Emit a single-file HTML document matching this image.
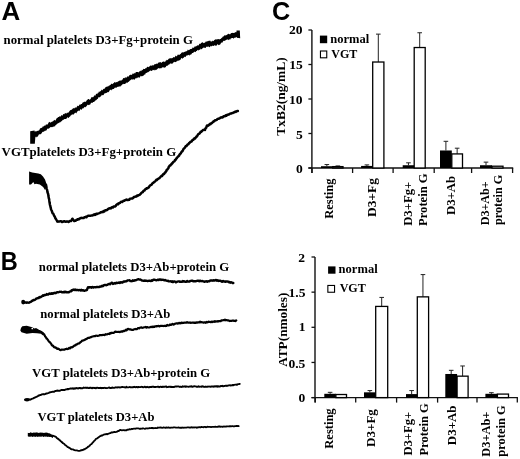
<!DOCTYPE html>
<html><head><meta charset="utf-8"><title>Figure</title>
<style>
html,body{margin:0;padding:0;background:#fff;width:520px;height:459px;overflow:hidden;}
svg{display:block;will-change:transform;}
text{fill:#000;}
</style></head><body>
<svg width="520" height="459" viewBox="0 0 520 459">
<rect width="520" height="459" fill="#fff"/>
<text id="A" transform="translate(1.584,20.028) scale(1.0344,1)" style="font-family:'Liberation Sans',sans-serif;font-weight:bold;font-size:25.100px" text-anchor="start">A</text>
<text id="B" transform="translate(0.851,269.895) scale(0.9313,1)" style="font-family:'Liberation Sans',sans-serif;font-weight:bold;font-size:25.318px" text-anchor="start">B</text>
<text id="C" transform="translate(271.991,19.521) scale(0.9700,1)" style="font-family:'Liberation Sans',sans-serif;font-weight:bold;font-size:26.000px" text-anchor="start">C</text>
<text id="tA1" transform="translate(3.557,43.800) scale(0.9976,1)" style="font-family:'Liberation Serif',serif;font-weight:bold;font-size:12.870px" text-anchor="start">normal platelets D3+Fg+protein G</text>
<text id="tA2" transform="translate(1.583,156.000) scale(0.9998,1)" style="font-family:'Liberation Serif',serif;font-weight:bold;font-size:12.900px" text-anchor="start">VGTplatelets D3+Fg+protein G</text>
<text id="tB1" transform="translate(38.855,270.800) scale(0.9983,1)" style="font-family:'Liberation Serif',serif;font-weight:bold;font-size:12.800px" text-anchor="start">normal platelets D3+Ab+protein G</text>
<text id="tB2" transform="translate(40.312,317.500) scale(1.0004,1)" style="font-family:'Liberation Serif',serif;font-weight:bold;font-size:12.700px" text-anchor="start">normal platelets D3+Ab</text>
<text id="tB3" transform="translate(32.124,376.600) scale(1.0043,1)" style="font-family:'Liberation Serif',serif;font-weight:bold;font-size:12.700px" text-anchor="start">VGT platelets D3+Ab+protein G</text>
<text id="tB4" transform="translate(37.446,420.500) scale(0.9942,1)" style="font-family:'Liberation Serif',serif;font-weight:bold;font-size:12.700px" text-anchor="start">VGT platelets D3+Ab</text>
<text id="l1n" transform="translate(330.330,43.000) scale(1.0104,1)" style="font-family:'Liberation Serif',serif;font-weight:bold;font-size:12.400px" text-anchor="start">normal</text>
<text id="l1v" transform="translate(331.176,57.900) scale(0.9737,1)" style="font-family:'Liberation Serif',serif;font-weight:bold;font-size:12.400px" text-anchor="start">VGT</text>
<text id="l2n" transform="translate(338.623,273.214) scale(1.0121,1)" style="font-family:'Liberation Serif',serif;font-weight:bold;font-size:12.400px" text-anchor="start">normal</text>
<text id="l2v" transform="translate(339.627,292.400) scale(0.9736,1)" style="font-family:'Liberation Serif',serif;font-weight:bold;font-size:12.400px" text-anchor="start">VGT</text>
<text id="yt1" transform="translate(284.500,96.454) rotate(-90) scale(1.1691,1)" style="font-family:'Liberation Serif',serif;font-weight:bold;font-size:11.500px" text-anchor="middle">TxB2(ng/mL)</text>
<text id="yt2" transform="translate(286.900,329.739) rotate(-90) scale(1.1540,1)" style="font-family:'Liberation Serif',serif;font-weight:bold;font-size:11.500px" text-anchor="middle">ATP(nmoles)</text>
<text id="c1a" transform="translate(333.492,178.559) rotate(-90) scale(1.0854,1)" style="font-family:'Liberation Serif',serif;font-weight:bold;font-size:11.500px" text-anchor="end">Resting</text>
<text id="c1b" transform="translate(375.600,178.044) rotate(-90) scale(1.1698,1)" style="font-family:'Liberation Serif',serif;font-weight:bold;font-size:11.500px" text-anchor="end">D3+Fg</text>
<text id="c1c1" transform="translate(411.800,225.839) rotate(-90) scale(1.1053,1)" style="font-family:'Liberation Serif',serif;font-weight:bold;font-size:11.500px" text-anchor="start">D3+Fg+</text>
<text id="c1c2" transform="translate(426.748,225.923) rotate(-90) scale(1.0945,1)" style="font-family:'Liberation Serif',serif;font-weight:bold;font-size:11.500px" text-anchor="start">Protein G</text>
<text id="c1d" transform="translate(454.500,175.743) rotate(-90) scale(1.1163,1)" style="font-family:'Liberation Serif',serif;font-weight:bold;font-size:11.500px" text-anchor="end">D3+Ab</text>
<text id="c1e1" transform="translate(488.700,225.330) rotate(-90) scale(1.0545,1)" style="font-family:'Liberation Serif',serif;font-weight:bold;font-size:11.500px" text-anchor="start">D3+Ab+</text>
<text id="c1e2" transform="translate(502.132,224.953) rotate(-90) scale(1.0611,1)" style="font-family:'Liberation Serif',serif;font-weight:bold;font-size:11.500px" text-anchor="start">protein G</text>
<text id="c2a" transform="translate(333.056,408.369) rotate(-90) scale(1.0903,1)" style="font-family:'Liberation Serif',serif;font-weight:bold;font-size:11.500px" text-anchor="end">Resting</text>
<text id="c2b" transform="translate(375.000,409.120) rotate(-90) scale(1.1339,1)" style="font-family:'Liberation Serif',serif;font-weight:bold;font-size:11.500px" text-anchor="end">D3+Fg</text>
<text id="c2c1" transform="translate(412.400,455.607) rotate(-90) scale(1.1010,1)" style="font-family:'Liberation Serif',serif;font-weight:bold;font-size:11.500px" text-anchor="start">D3+Fg+</text>
<text id="c2c2" transform="translate(427.577,455.447) rotate(-90) scale(1.0872,1)" style="font-family:'Liberation Serif',serif;font-weight:bold;font-size:11.500px" text-anchor="start">Protein G</text>
<text id="c2d" transform="translate(456.100,405.416) rotate(-90) scale(1.1263,1)" style="font-family:'Liberation Serif',serif;font-weight:bold;font-size:11.500px" text-anchor="end">D3+Ab</text>
<text id="c2e1" transform="translate(489.500,456.720) rotate(-90) scale(1.0785,1)" style="font-family:'Liberation Serif',serif;font-weight:bold;font-size:11.500px" text-anchor="start">D3+Ab+</text>
<text id="c2e2" transform="translate(505.168,456.638) rotate(-90) scale(1.0860,1)" style="font-family:'Liberation Serif',serif;font-weight:bold;font-size:11.500px" text-anchor="start">protein G</text>
<text id="y1_20" transform="translate(302.591,34.240) scale(1.1500,1)" style="font-family:'Liberation Serif',serif;font-weight:bold;font-size:11.800px" text-anchor="end">20</text>
<text id="y1_15" transform="translate(302.702,68.850) scale(1.1500,1)" style="font-family:'Liberation Serif',serif;font-weight:bold;font-size:11.800px" text-anchor="end">15</text>
<text id="y1_10" transform="translate(302.495,103.550) scale(1.1500,1)" style="font-family:'Liberation Serif',serif;font-weight:bold;font-size:11.800px" text-anchor="end">10</text>
<text id="y1_5" transform="translate(302.702,138.617) scale(1.1500,1)" style="font-family:'Liberation Serif',serif;font-weight:bold;font-size:11.800px" text-anchor="end">5</text>
<text id="y1_0" transform="translate(302.883,173.230) scale(1.1500,1)" style="font-family:'Liberation Serif',serif;font-weight:bold;font-size:11.800px" text-anchor="end">0</text>
<text id="y2_2" transform="translate(305.099,261.994) scale(1.1500,1)" style="font-family:'Liberation Serif',serif;font-weight:bold;font-size:11.800px" text-anchor="end">2</text>
<text id="y2_15" transform="translate(305.552,297.350) scale(1.1500,1)" style="font-family:'Liberation Serif',serif;font-weight:bold;font-size:11.800px" text-anchor="end">1.5</text>
<text id="y2_1" transform="translate(305.544,331.190) scale(1.1500,1)" style="font-family:'Liberation Serif',serif;font-weight:bold;font-size:11.800px" text-anchor="end">1</text>
<text id="y2_05" transform="translate(305.360,368.068) scale(1.1500,1)" style="font-family:'Liberation Serif',serif;font-weight:bold;font-size:11.800px" text-anchor="end">0.5</text>
<text id="y2_0" transform="translate(305.399,402.336) scale(1.1500,1)" style="font-family:'Liberation Serif',serif;font-weight:bold;font-size:11.800px" text-anchor="end">0</text>
<path d="M32.50,133.02 L33.14,133.26 L33.79,132.79 L34.43,131.74 L35.07,131.42 L35.71,131.18 L36.36,131.46 L37.00,130.70 L37.60,131.05 L38.20,130.52 L38.80,130.71 L39.40,130.07 L40.00,128.48 L40.60,128.29 L41.20,127.64 L41.80,127.92 L42.40,127.33 L43.00,126.10 L43.58,126.70 L44.17,125.72 L44.75,125.55 L45.33,125.70 L45.92,124.43 L46.50,124.49 L47.08,124.43 L47.67,124.43 L48.25,123.14 L48.83,122.33 L49.42,121.75 L50.00,122.52 L50.71,122.44 L51.43,121.90 L52.14,121.46 L52.86,121.62 L53.57,120.77 L54.29,119.85 L55.00,120.54 L55.56,120.38 L56.11,119.25 L56.67,118.24 L57.22,118.04 L57.78,117.43 L58.33,117.11 L58.89,117.09 L59.44,116.16 L60.00,116.48 L60.62,116.57 L61.25,115.37 L61.88,115.16 L62.50,115.78 L63.12,114.19 L63.75,113.95 L64.38,114.18 L65.00,112.91 L65.62,113.17 L66.25,113.77 L66.88,112.75 L67.50,112.68 L68.12,112.71 L68.75,112.35 L69.38,111.25 L70.00,110.47 L70.62,110.01 L71.25,109.86 L71.88,109.68 L72.50,108.75 L73.12,108.52 L73.75,108.02 L74.38,108.57 L75.00,107.60 L75.62,107.38 L76.25,107.76 L76.88,106.75 L77.50,105.74 L78.12,105.75 L78.75,106.13 L79.38,104.44 L80.00,104.85 L80.62,104.44 L81.25,103.99 L81.88,104.11 L82.50,102.72 L83.12,102.14 L83.75,102.30 L84.38,101.55 L85.00,101.90 L85.62,101.64 L86.25,101.26 L86.88,99.99 L87.50,99.87 L88.12,99.02 L88.75,99.06 L89.38,99.86 L90.00,99.50 L90.62,99.09 L91.25,97.48 L91.88,97.00 L92.50,97.25 L93.12,97.16 L93.75,96.42 L94.38,95.07 L95.00,95.96 L95.56,95.24 L96.11,93.87 L96.67,93.67 L97.22,94.23 L97.78,92.86 L98.33,92.93 L98.89,91.51 L99.44,92.30 L100.00,90.63 L100.62,91.58 L101.25,90.19 L101.88,89.45 L102.50,90.40 L103.12,89.31 L103.75,88.77 L104.38,89.01 L105.00,87.70 L105.62,87.32 L106.25,86.99 L106.88,86.42 L107.50,86.42 L108.12,86.42 L108.75,85.80 L109.38,85.57 L110.00,85.24 L110.62,84.77 L111.25,83.73 L111.88,83.66 L112.50,84.21 L113.12,83.23 L113.75,83.26 L114.38,82.21 L115.00,82.10 L115.71,82.66 L116.43,82.06 L117.14,82.35 L117.86,81.59 L118.57,81.16 L119.29,80.80 L120.00,80.56 L120.62,80.59 L121.25,80.66 L121.88,79.72 L122.50,79.84 L123.12,78.37 L123.75,77.97 L124.38,77.64 L125.00,78.45 L125.62,77.11 L126.25,77.58 L126.88,77.60 L127.50,76.20 L128.12,76.15 L128.75,76.76 L129.38,75.10 L130.00,75.32 L130.71,74.51 L131.43,75.06 L132.14,74.49 L132.86,73.33 L133.57,74.00 L134.29,72.80 L135.00,73.66 L135.71,72.32 L136.43,71.98 L137.14,72.10 L137.86,72.10 L138.57,72.50 L139.29,71.18 L140.00,71.61 L140.62,70.51 L141.25,71.13 L141.88,69.80 L142.50,70.37 L143.12,69.15 L143.75,68.78 L144.38,69.06 L145.00,68.88 L145.62,68.09 L146.25,68.17 L146.88,67.16 L147.50,66.73 L148.12,66.81 L148.75,67.19 L149.38,66.44 L150.00,65.86 L150.71,65.43 L151.43,65.93 L152.14,64.79 L152.86,65.71 L153.57,65.25 L154.29,64.46 L155.00,64.03 L155.71,64.30 L156.43,63.55 L157.14,63.93 L157.86,63.25 L158.57,62.49 L159.29,62.31 L160.00,62.41 L160.71,61.96 L161.43,63.05 L162.14,61.94 L162.86,61.78 L163.57,61.39 L164.29,61.39 L165.00,62.36 L165.62,60.85 L166.25,60.62 L166.88,59.79 L167.50,60.21 L168.12,59.43 L168.75,58.78 L169.38,58.58 L170.00,58.17 L170.71,58.24 L171.43,58.35 L172.14,58.27 L172.86,57.87 L173.57,57.01 L174.29,57.62 L175.00,56.86 L175.71,55.43 L176.43,56.44 L177.14,55.85 L177.86,54.55 L178.57,54.79 L179.29,54.93 L180.00,54.23 L180.62,54.07 L181.25,53.02 L181.88,52.54 L182.50,52.17 L183.12,52.57 L183.75,52.35 L184.38,51.81 L185.00,51.98 L185.71,51.19 L186.43,51.13 L187.14,50.94 L187.86,49.56 L188.57,50.30 L189.29,50.00 L190.00,49.29 L190.71,48.91 L191.43,49.01 L192.14,48.46 L192.86,47.31 L193.57,47.90 L194.29,47.27 L195.00,46.10 L195.62,46.70 L196.25,46.33 L196.88,45.70 L197.50,45.25 L198.12,45.55 L198.75,45.32 L199.38,43.40 L200.00,44.31 L200.71,43.48 L201.43,42.85 L202.14,42.61 L202.86,42.26 L203.57,43.31 L204.29,42.86 L205.00,42.72 L205.71,41.53 L206.43,41.79 L207.14,40.88 L207.86,41.45 L208.57,40.81 L209.29,40.95 L210.00,40.30 L210.71,41.51 L211.43,41.53 L212.14,41.36 L212.86,40.38 L213.57,41.26 L214.29,40.11 L215.00,39.84 L215.71,39.35 L216.43,39.43 L217.14,39.16 L217.86,39.36 L218.57,38.93 L219.29,39.53 L220.00,38.91 L220.62,38.96 L221.25,38.15 L221.88,37.72 L222.50,37.30 L223.12,36.11 L223.75,36.68 L224.38,35.51 L225.00,34.78 L225.71,35.69 L226.43,35.01 L227.14,34.68 L227.86,33.88 L228.57,33.78 L229.29,34.07 L230.00,34.55 L230.71,33.61 L231.43,32.98 L232.14,33.00 L232.86,32.63 L233.57,32.94 L234.29,33.01 L235.00,32.26 L235.70,32.14 L236.40,31.58 L237.10,32.97 L237.80,32.17 L238.50,32.68 L238.50,37.05 L237.80,37.77 L237.10,37.02 L236.40,37.32 L235.70,37.48 L235.00,37.84 L234.29,37.87 L233.57,38.85 L232.86,38.06 L232.14,38.00 L231.43,38.22 L230.71,38.51 L230.00,40.09 L229.29,39.02 L228.57,40.29 L227.86,39.27 L227.14,39.82 L226.43,39.84 L225.71,39.94 L225.00,40.88 L224.38,40.70 L223.75,40.80 L223.12,41.13 L222.50,42.53 L221.88,42.67 L221.25,42.48 L220.62,43.73 L220.00,44.76 L219.29,44.81 L218.57,45.26 L217.86,44.25 L217.14,44.58 L216.43,45.87 L215.71,45.92 L215.00,44.88 L214.29,45.61 L213.57,46.00 L212.86,45.81 L212.14,45.78 L211.43,46.58 L210.71,45.76 L210.00,46.90 L209.29,47.19 L208.57,46.54 L207.86,46.61 L207.14,47.06 L206.43,46.45 L205.71,47.99 L205.00,47.83 L204.29,47.76 L203.57,47.40 L202.86,48.27 L202.14,48.60 L201.43,49.43 L200.71,48.59 L200.00,49.95 L199.38,49.51 L198.75,50.65 L198.12,49.84 L197.50,50.09 L196.88,51.02 L196.25,51.12 L195.62,52.13 L195.00,51.83 L194.29,51.78 L193.57,52.60 L192.86,52.88 L192.14,52.95 L191.43,54.17 L190.71,54.64 L190.00,54.51 L189.29,55.78 L188.57,54.86 L187.86,55.27 L187.14,55.56 L186.43,55.58 L185.71,56.64 L185.00,57.30 L184.38,56.43 L183.75,57.84 L183.12,58.08 L182.50,58.74 L181.88,58.30 L181.25,58.10 L180.62,59.48 L180.00,60.13 L179.29,60.37 L178.57,60.72 L177.86,60.57 L177.14,61.37 L176.43,61.42 L175.71,62.09 L175.00,62.13 L174.29,61.68 L173.57,62.31 L172.86,63.54 L172.14,63.52 L171.43,63.66 L170.71,63.53 L170.00,63.54 L169.38,64.48 L168.75,64.60 L168.12,65.32 L167.50,65.65 L166.88,65.80 L166.25,66.10 L165.62,67.41 L165.00,67.08 L164.29,67.91 L163.57,67.26 L162.86,67.45 L162.14,67.27 L161.43,68.13 L160.71,68.57 L160.00,67.66 L159.29,68.79 L158.57,68.01 L157.86,68.56 L157.14,69.22 L156.43,69.73 L155.71,70.17 L155.00,69.61 L154.29,70.41 L153.57,70.03 L152.86,69.78 L152.14,70.65 L151.43,71.04 L150.71,70.45 L150.00,70.73 L149.38,71.32 L148.75,71.84 L148.12,72.20 L147.50,72.37 L146.88,72.65 L146.25,73.11 L145.62,73.27 L145.00,74.88 L144.38,74.28 L143.75,75.46 L143.12,75.78 L142.50,76.03 L141.88,76.59 L141.25,76.11 L140.62,75.85 L140.00,77.22 L139.29,77.81 L138.57,77.00 L137.86,78.29 L137.14,77.28 L136.43,78.56 L135.71,77.98 L135.00,79.35 L134.29,79.68 L133.57,79.22 L132.86,79.23 L132.14,79.70 L131.43,79.33 L130.71,80.11 L130.00,80.44 L129.38,80.93 L128.75,81.91 L128.12,81.69 L127.50,82.77 L126.88,83.14 L126.25,82.15 L125.62,83.41 L125.00,84.04 L124.38,84.00 L123.75,83.64 L123.12,84.28 L122.50,84.12 L121.88,85.73 L121.25,84.97 L120.62,86.28 L120.00,86.71 L119.29,86.32 L118.57,86.85 L117.86,86.82 L117.14,86.99 L116.43,87.77 L115.71,87.64 L115.00,87.54 L114.38,88.33 L113.75,89.03 L113.12,88.94 L112.50,89.34 L111.88,89.55 L111.25,90.40 L110.62,89.76 L110.00,89.83 L109.38,91.01 L108.75,91.99 L108.12,92.33 L107.50,91.98 L106.88,93.07 L106.25,92.65 L105.62,93.28 L105.00,93.17 L104.38,93.43 L103.75,94.87 L103.12,95.36 L102.50,95.29 L101.88,94.66 L101.25,95.90 L100.62,96.46 L100.00,97.12 L99.44,97.55 L98.89,96.95 L98.33,97.44 L97.78,99.14 L97.22,98.71 L96.67,99.81 L96.11,100.25 L95.56,100.21 L95.00,101.15 L94.38,101.39 L93.75,102.05 L93.12,101.98 L92.50,103.09 L91.88,102.41 L91.25,102.89 L90.62,103.55 L90.00,104.98 L89.38,104.44 L88.75,105.16 L88.12,104.82 L87.50,104.75 L86.88,105.85 L86.25,106.53 L85.62,106.96 L85.00,107.58 L84.38,106.78 L83.75,108.10 L83.12,108.51 L82.50,108.29 L81.88,109.24 L81.25,110.12 L80.62,109.02 L80.00,109.63 L79.38,111.32 L78.75,110.46 L78.12,111.02 L77.50,111.16 L76.88,112.17 L76.25,113.39 L75.62,112.40 L75.00,113.16 L74.38,113.23 L73.75,114.77 L73.12,114.34 L72.50,114.39 L71.88,114.62 L71.25,115.18 L70.62,115.42 L70.00,116.71 L69.38,116.66 L68.75,117.63 L68.12,117.92 L67.50,117.09 L66.88,118.31 L66.25,118.75 L65.62,118.88 L65.00,118.97 L64.38,119.06 L63.75,119.75 L63.12,119.68 L62.50,119.89 L61.88,121.40 L61.25,120.99 L60.62,122.04 L60.00,122.41 L59.44,122.15 L58.89,123.26 L58.33,122.70 L57.78,123.96 L57.22,123.35 L56.67,124.34 L56.11,125.10 L55.56,124.92 L55.00,126.49 L54.29,126.28 L53.57,126.48 L52.86,127.18 L52.14,126.66 L51.43,127.14 L50.71,126.94 L50.00,127.62 L49.42,128.16 L48.83,128.27 L48.25,129.09 L47.67,128.46 L47.08,129.12 L46.50,130.45 L45.92,130.36 L45.33,130.95 L44.75,130.70 L44.17,131.55 L43.58,131.69 L43.00,131.73 L42.40,131.95 L41.80,132.90 L41.20,133.68 L40.60,134.51 L40.00,133.84 L39.40,134.56 L38.80,134.62 L38.20,135.63 L37.60,136.97 L37.00,136.26 L36.36,137.51 L35.71,136.62 L35.07,137.45 L34.43,137.85 L33.79,137.91 L33.14,137.73 L32.50,138.14Z" fill="#000"/>
<path d="M30.2,131.3 L34.5,130.6 L35.5,135 L34.8,143.8 L30.2,143.8Z" fill="#000"/>
<path d="M236.5,30.6 L239.8,30.4 L240.2,38.3 L237,37.8Z" fill="#000"/>
<path d="M46.00,184.79 L46.14,185.49 L46.29,186.34 L46.43,187.09 L46.57,188.27 L46.71,188.89 L46.86,189.62 L47.00,189.57 L47.19,190.29 L47.37,191.62 L47.56,192.50 L47.74,192.83 L47.93,193.65 L48.11,193.84 L48.30,194.90 L48.43,196.10 L48.56,196.72 L48.69,197.46 L48.81,198.28 L48.94,198.35 L49.07,198.93 L49.20,199.69 L49.31,200.73 L49.43,201.59 L49.54,202.54 L49.66,203.06 L49.77,203.70 L49.89,204.52 L50.00,204.96 L50.19,205.76 L50.37,206.01 L50.56,207.40 L50.74,207.62 L50.93,208.95 L51.11,209.42 L51.30,209.82 L51.62,210.42 L51.95,211.28 L52.27,212.37 L52.60,213.18 L53.05,213.40 L53.50,214.11 L53.95,215.27 L54.40,216.07 L54.73,216.65 L55.05,217.25 L55.38,218.34 L55.70,218.56 L56.27,219.55 L56.83,220.43 L57.40,221.61 L58.17,221.40 L58.93,221.68 L59.70,221.38 L60.47,221.23 L61.23,221.31 L62.00,222.01 L62.76,221.78 L63.51,221.43 L64.27,221.17 L65.02,221.60 L65.78,221.76 L66.53,221.53 L67.29,221.38 L68.04,221.75 L68.80,221.98 L69.53,221.22 L70.27,220.91 L71.00,221.05 L71.40,220.45 L71.80,220.01 L72.20,218.90 L72.60,218.77 L72.90,219.38 L73.20,219.84 L73.50,220.23 L74.25,221.07 L75.00,220.63 L75.71,220.75 L76.43,219.87 L77.14,219.52 L77.86,219.66 L78.57,218.90 L79.29,219.15 L80.00,218.40 L80.71,217.98 L81.43,217.87 L82.14,217.90 L82.86,217.98 L83.57,218.09 L84.29,217.22 L85.00,217.30 L85.71,216.87 L86.43,217.28 L87.14,216.26 L87.86,215.91 L88.57,215.65 L89.29,215.68 L90.00,215.86 L90.71,215.70 L91.43,215.42 L92.14,215.52 L92.86,215.32 L93.57,214.63 L94.29,214.36 L95.00,214.89 L95.71,214.52 L96.43,213.68 L97.14,214.05 L97.86,213.59 L98.57,213.39 L99.29,213.15 L100.00,212.80 L100.71,212.31 L101.43,212.22 L102.14,211.94 L102.86,212.14 L103.57,211.05 L104.29,211.46 L105.00,210.44 L105.71,210.23 L106.43,210.30 L107.14,209.96 L107.86,209.27 L108.57,208.58 L109.29,208.62 L110.00,208.19 L110.71,208.39 L111.43,207.45 L112.14,207.32 L112.86,207.51 L113.57,206.45 L114.29,206.51 L115.00,206.58 L115.62,206.07 L116.25,204.94 L116.88,204.46 L117.50,204.01 L118.12,204.30 L118.75,203.23 L119.38,203.20 L120.00,202.86 L120.71,202.04 L121.43,201.67 L122.14,201.97 L122.86,201.35 L123.57,200.71 L124.29,200.81 L125.00,200.13 L125.71,199.94 L126.43,199.54 L127.14,200.06 L127.86,200.05 L128.57,199.63 L129.29,199.76 L130.00,198.77 L130.71,198.62 L131.43,198.49 L132.14,198.58 L132.86,198.24 L133.57,197.38 L134.29,196.92 L135.00,196.74 L135.71,196.44 L136.43,196.47 L137.14,195.44 L137.86,195.64 L138.57,195.23 L139.29,194.95 L140.00,194.55 L140.56,193.91 L141.11,193.17 L141.67,192.67 L142.22,192.22 L142.78,192.11 L143.33,190.99 L143.89,190.61 L144.44,190.62 L145.00,189.67 L145.56,189.07 L146.11,188.61 L146.67,188.65 L147.22,188.01 L147.78,188.17 L148.33,187.65 L148.89,187.31 L149.44,186.22 L150.00,185.63 L150.50,185.15 L151.00,185.02 L151.50,184.72 L152.00,183.99 L152.50,183.31 L153.00,182.99 L153.50,182.68 L154.00,182.24 L154.50,181.81 L155.00,181.41 L155.62,180.81 L156.25,179.88 L156.88,180.09 L157.50,179.16 L158.12,178.97 L158.75,178.36 L159.38,178.25 L160.00,177.33 L160.50,176.88 L161.00,176.39 L161.50,175.82 L162.00,175.99 L162.50,175.22 L163.00,174.50 L163.50,174.08 L164.00,174.12 L164.50,173.20 L165.00,172.46 L165.42,172.38 L165.83,171.64 L166.25,171.34 L166.67,169.94 L167.08,169.68 L167.50,169.39 L167.92,168.81 L168.33,168.27 L168.75,166.89 L169.17,166.51 L169.58,165.76 L170.00,165.22 L170.50,165.41 L171.00,164.53 L171.50,164.33 L172.00,163.31 L172.50,163.23 L173.00,162.33 L173.50,161.64 L174.00,161.59 L174.50,161.22 L175.00,159.95 L175.45,159.85 L175.91,159.34 L176.36,158.44 L176.82,158.04 L177.27,157.30 L177.73,156.82 L178.18,156.32 L178.64,156.10 L179.09,155.61 L179.55,154.67 L180.00,153.96 L180.42,153.65 L180.83,153.38 L181.25,152.34 L181.67,151.86 L182.08,151.17 L182.50,151.12 L182.92,150.30 L183.33,149.27 L183.75,148.72 L184.17,148.39 L184.58,147.94 L185.00,147.43 L185.50,146.44 L186.00,146.02 L186.50,146.01 L187.00,145.26 L187.50,144.65 L188.00,144.19 L188.50,144.28 L189.00,143.21 L189.50,142.95 L190.00,142.27 L190.56,141.86 L191.11,141.79 L191.67,141.45 L192.22,140.41 L192.78,139.79 L193.33,139.81 L193.89,138.87 L194.44,138.22 L195.00,138.56 L195.50,137.58 L196.00,137.39 L196.50,136.47 L197.00,136.34 L197.50,135.41 L198.00,134.60 L198.50,133.91 L199.00,133.85 L199.50,133.38 L200.00,133.07 L200.60,131.85 L201.20,131.85 L201.80,131.14 L202.40,130.78 L203.00,129.98 L203.67,129.87 L204.33,129.85 L205.00,129.98 L205.33,128.61 L205.67,128.32 L206.00,127.97 L206.33,127.49 L206.67,126.16 L207.00,125.46 L207.75,125.80 L208.50,125.43 L209.25,124.58 L210.00,123.80 L210.60,124.12 L211.20,123.18 L211.80,123.18 L212.40,122.47 L213.00,122.19 L213.60,121.19 L214.20,121.36 L214.80,120.45 L215.40,120.21 L216.00,120.21 L216.67,119.91 L217.33,119.05 L218.00,118.80 L218.67,118.68 L219.33,118.50 L220.00,118.10 L220.71,117.55 L221.43,117.34 L222.14,117.46 L222.86,117.30 L223.57,116.22 L224.29,116.37 L225.00,116.23 L225.71,115.27 L226.43,115.68 L227.14,114.71 L227.86,114.83 L228.57,114.47 L229.29,114.23 L230.00,113.63 L230.71,113.49 L231.43,113.39 L232.14,113.00 L232.86,112.97 L233.57,112.54 L234.29,112.29 L235.00,111.67 L235.72,111.88 L236.45,111.44 L237.18,110.89 L237.90,111.04" fill="none" stroke="#000" stroke-width="2.5" stroke-linejoin="round" stroke-linecap="round"/>
<path d="M29.1,171.4 L32.2,172.4 L38.3,173.5 L40.8,174.2 L43,176.5 L45,179.5 L46.2,183 L46.8,186.8 L45,190 L43.5,187.5 L42.5,186.4 L39.8,184.5 L36,183.7 L34.5,184.2 L33.3,182 L32.2,183.2 L31,184.6 L29.1,184.6Z" fill="#000"/>
<path d="M24.00,302.55 L25.00,302.46 L25.75,302.34 L26.50,302.73 L27.25,302.52 L28.00,302.67 L29.00,302.69 L30.00,302.13 L30.67,301.95 L31.33,301.51 L32.00,300.59 L32.75,300.75 L33.50,299.87 L34.25,300.09 L35.00,299.75 L35.75,299.14 L36.50,298.35 L37.25,298.38 L38.00,297.89 L38.67,298.07 L39.33,297.01 L40.00,297.32 L40.75,297.07 L41.50,296.46 L42.25,296.16 L43.00,295.22 L43.75,295.68 L44.50,294.99 L45.25,295.16 L46.00,294.87 L46.80,294.06 L47.60,294.48 L48.40,294.47 L49.20,293.55 L50.00,293.67 L50.71,293.92 L51.43,293.26 L52.14,293.81 L52.86,293.14 L53.57,293.51 L54.29,292.79 L55.00,293.00 L55.75,293.20 L56.50,292.39 L57.25,292.26 L58.00,292.31 L58.80,292.08 L59.60,291.76 L60.40,291.83 L61.20,291.76 L62.00,292.39 L62.75,292.16 L63.50,292.36 L64.25,291.70 L65.00,292.26 L65.75,291.75 L66.50,292.23 L67.25,292.42 L68.00,292.27 L68.75,292.39 L69.50,291.75 L70.25,291.42 L71.00,291.34 L71.67,290.18 L72.33,290.51 L73.00,289.72 L73.75,289.55 L74.50,289.97 L75.25,289.54 L76.00,290.24 L76.80,289.95 L77.60,289.83 L78.40,290.28 L79.20,290.07 L80.00,289.91 L80.71,290.45 L81.43,289.85 L82.14,290.57 L82.86,290.09 L83.57,290.47 L84.29,290.81 L85.00,290.48 L86.00,290.35 L87.00,289.83 L87.33,288.75 L87.67,287.98 L88.00,287.28 L89.00,287.50 L90.00,287.14 L90.71,287.27 L91.43,287.67 L92.14,287.04 L92.86,287.18 L93.57,287.62 L94.29,287.11 L95.00,287.15 L95.71,287.36 L96.43,287.02 L97.14,287.13 L97.86,286.89 L98.57,287.10 L99.29,286.99 L100.00,286.53 L100.71,286.68 L101.43,286.32 L102.14,285.79 L102.86,286.28 L103.57,285.43 L104.29,285.11 L105.00,284.84 L105.71,285.17 L106.43,285.22 L107.14,284.98 L107.86,284.48 L108.57,284.20 L109.29,283.82 L110.00,284.23 L110.67,283.66 L111.33,282.97 L112.00,282.73 L112.50,283.05 L113.00,283.99 L114.00,283.61 L115.00,282.97 L115.71,283.51 L116.43,282.68 L117.14,283.06 L117.86,282.89 L118.57,282.68 L119.29,282.46 L120.00,283.05 L120.80,282.16 L121.60,282.45 L122.40,282.60 L123.20,281.68 L124.00,281.53 L124.67,281.68 L125.33,281.37 L126.00,281.28 L126.67,281.22 L127.33,280.42 L128.00,280.33 L128.80,280.42 L129.60,280.29 L130.40,281.15 L131.20,281.15 L132.00,281.19 L132.80,280.36 L133.60,280.91 L134.40,280.62 L135.20,280.17 L136.00,280.22 L137.00,279.71 L138.00,279.25 L138.80,279.30 L139.60,279.58 L140.40,279.56 L141.20,279.99 L142.00,280.52 L142.80,280.58 L143.60,280.81 L144.40,280.79 L145.20,280.49 L146.00,280.85 L146.80,280.74 L147.60,281.06 L148.40,280.82 L149.20,280.59 L150.00,280.93 L150.80,281.06 L151.60,280.23 L152.40,280.66 L153.20,279.72 L154.00,279.78 L154.80,279.72 L155.60,280.14 L156.40,280.28 L157.20,280.06 L158.00,279.64 L158.80,280.08 L159.60,279.53 L160.40,279.39 L161.20,279.93 L162.00,279.62 L162.80,279.81 L163.60,279.93 L164.40,280.35 L165.20,280.03 L166.00,280.51 L166.67,280.59 L167.33,280.96 L168.00,280.79 L168.67,281.27 L169.33,281.35 L170.00,281.33 L170.75,281.30 L171.50,281.74 L172.25,281.31 L173.00,282.12 L173.75,281.49 L174.50,281.45 L175.25,281.58 L176.00,282.39 L176.75,281.80 L177.50,281.55 L178.25,281.39 L179.00,281.34 L179.75,281.86 L180.50,281.75 L181.25,281.74 L182.00,281.71 L182.75,281.08 L183.50,281.53 L184.25,281.30 L185.00,281.69 L185.75,281.66 L186.50,281.70 L187.25,280.93 L188.00,281.63 L188.75,281.64 L189.50,281.62 L190.25,280.83 L191.00,280.89 L191.75,280.76 L192.50,280.66 L193.25,281.35 L194.00,281.28 L194.75,281.12 L195.50,281.29 L196.25,281.12 L197.00,280.81 L197.75,280.64 L198.50,280.64 L199.25,281.23 L200.00,280.73 L200.80,280.98 L201.60,281.21 L202.40,280.99 L203.20,281.34 L204.00,281.50 L204.80,281.79 L205.60,281.38 L206.40,281.24 L207.20,281.72 L208.00,281.20 L208.80,281.38 L209.60,281.03 L210.40,280.36 L211.20,280.56 L212.00,280.44 L212.80,280.69 L213.60,280.24 L214.40,280.50 L215.20,280.29 L216.00,279.94 L216.80,280.71 L217.60,280.19 L218.40,281.03 L219.20,280.62 L220.00,280.65 L220.80,280.91 L221.60,281.50 L222.40,281.77 L223.20,280.97 L224.00,281.49 L224.80,281.53 L225.60,281.85 L226.40,281.34 L227.20,281.66 L228.00,281.56 L228.75,282.20 L229.50,281.88 L230.25,282.70 L231.00,282.31 L231.77,282.41 L232.53,283.01 L233.30,283.00" fill="none" stroke="#000" stroke-width="2.4" stroke-linejoin="round" stroke-linecap="round"/>
<ellipse cx="23.2" cy="302.1" rx="2.0" ry="2.3" fill="#000"/>
<path d="M36.00,329.15 L36.67,329.96 L37.33,329.79 L38.00,330.76 L38.67,331.01 L39.33,331.42 L40.00,331.62 L40.67,331.70 L41.33,332.08 L42.00,332.41 L42.50,333.35 L43.00,333.13 L43.50,334.35 L44.00,334.07 L44.40,334.84 L44.80,335.49 L45.20,336.66 L45.60,336.90 L46.00,337.39 L46.50,338.47 L47.00,338.51 L47.50,339.34 L48.00,340.03 L48.50,340.85 L49.00,341.48 L49.50,342.01 L50.00,342.36 L50.50,342.97 L51.00,343.44 L51.50,344.68 L52.00,345.15 L52.50,345.72 L53.00,345.70 L53.50,346.44 L54.00,347.25 L54.75,347.45 L55.50,347.41 L56.25,348.09 L57.00,348.85 L57.75,348.59 L58.50,348.87 L59.25,349.30 L60.00,349.98 L60.75,350.16 L61.50,349.59 L62.25,349.64 L63.00,349.77 L63.75,349.64 L64.50,349.62 L65.25,349.09 L66.00,349.05 L66.80,348.68 L67.60,349.15 L68.40,348.69 L69.20,347.88 L70.00,348.42 L70.67,347.31 L71.33,347.23 L72.00,347.44 L72.67,346.93 L73.33,346.54 L74.00,345.94 L74.67,345.39 L75.33,345.46 L76.00,344.65 L76.67,344.40 L77.33,344.23 L78.00,343.58 L78.57,343.48 L79.14,343.40 L79.71,342.89 L80.29,342.29 L80.86,341.98 L81.43,341.40 L82.00,340.68 L82.67,340.76 L83.33,340.25 L84.00,340.22 L84.67,340.03 L85.33,339.27 L86.00,339.07 L86.67,338.89 L87.33,338.26 L88.00,337.76 L88.67,337.95 L89.33,337.84 L90.00,337.50 L90.67,337.18 L91.33,337.07 L92.00,336.66 L92.80,336.53 L93.60,336.26 L94.40,336.03 L95.20,336.22 L96.00,335.64 L96.80,335.77 L97.60,335.93 L98.40,335.71 L99.20,335.48 L100.00,334.98 L100.80,335.05 L101.60,335.00 L102.40,335.07 L103.20,334.80 L104.00,334.96 L104.80,335.03 L105.60,334.19 L106.40,334.46 L107.20,334.41 L108.00,333.90 L108.80,333.79 L109.60,334.03 L110.40,332.98 L111.20,333.24 L112.00,332.69 L112.80,333.01 L113.60,332.92 L114.40,332.30 L115.20,331.68 L116.00,331.87 L116.80,331.84 L117.60,332.00 L118.40,331.81 L119.20,331.93 L120.00,332.10 L120.80,331.66 L121.60,331.40 L122.40,331.72 L123.20,330.90 L124.00,331.17 L124.67,330.60 L125.33,330.64 L126.00,329.76 L126.67,330.24 L127.33,329.37 L128.00,328.80 L128.80,329.16 L129.60,329.43 L130.40,329.24 L131.20,329.77 L132.00,329.93 L132.80,329.98 L133.60,329.47 L134.40,329.19 L135.20,328.95 L136.00,329.22 L136.80,329.16 L137.60,328.54 L138.40,328.03 L139.20,328.31 L140.00,327.70 L140.71,327.46 L141.43,327.29 L142.14,327.79 L142.86,327.74 L143.57,327.49 L144.29,327.26 L145.00,327.26 L145.71,326.95 L146.43,327.62 L147.14,327.07 L147.86,327.32 L148.57,327.49 L149.29,327.48 L150.00,327.17 L150.71,326.91 L151.43,327.04 L152.14,326.56 L152.86,327.10 L153.57,326.57 L154.29,326.92 L155.00,326.29 L155.71,326.35 L156.43,326.19 L157.14,326.30 L157.86,326.05 L158.57,325.84 L159.29,326.44 L160.00,326.00 L160.71,325.91 L161.43,325.91 L162.14,326.01 L162.86,325.91 L163.57,326.04 L164.29,326.00 L165.00,325.68 L165.71,326.04 L166.43,325.83 L167.14,324.97 L167.86,325.52 L168.57,325.45 L169.29,325.20 L170.00,324.48 L170.71,324.98 L171.43,324.69 L172.14,324.02 L172.86,323.90 L173.57,324.64 L174.29,324.25 L175.00,323.78 L175.71,323.50 L176.43,323.39 L177.14,323.33 L177.86,323.68 L178.57,323.15 L179.29,322.83 L180.00,323.36 L180.71,323.18 L181.43,322.53 L182.14,323.09 L182.86,322.75 L183.57,322.82 L184.29,322.64 L185.00,322.75 L185.71,322.67 L186.43,322.73 L187.14,322.17 L187.86,322.63 L188.57,322.50 L189.29,322.70 L190.00,322.44 L190.71,322.92 L191.43,322.69 L192.14,322.50 L192.86,322.55 L193.57,322.53 L194.29,322.92 L195.00,322.60 L195.71,322.83 L196.43,322.39 L197.14,322.56 L197.86,322.43 L198.57,322.32 L199.29,322.47 L200.00,321.56 L200.71,322.38 L201.43,322.11 L202.14,322.27 L202.86,322.43 L203.57,322.66 L204.29,322.32 L205.00,322.43 L205.71,322.81 L206.43,321.92 L207.14,322.32 L207.86,322.22 L208.57,321.58 L209.29,322.00 L210.00,321.96 L210.71,322.15 L211.43,321.56 L212.14,322.10 L212.86,321.64 L213.57,321.57 L214.29,321.90 L215.00,321.08 L215.71,321.62 L216.43,321.47 L217.14,321.14 L217.86,321.54 L218.57,321.02 L219.29,321.05 L220.00,321.02 L220.71,321.07 L221.43,320.40 L222.14,320.43 L222.86,320.24 L223.57,320.19 L224.29,320.27 L225.00,319.61 L225.75,320.27 L226.50,320.06 L227.25,320.33 L228.00,320.29 L228.80,320.57 L229.60,321.05 L230.40,320.82 L231.20,321.00 L232.00,320.65 L232.72,320.64 L233.43,320.62 L234.15,320.88 L234.87,320.92 L235.58,321.06 L236.30,320.39" fill="none" stroke="#000" stroke-width="2.2" stroke-linejoin="round" stroke-linecap="round"/>
<path d="M20.3,330.4 L21,328 L22.3,326.3 L26.7,325.8 L31.3,326.9 L35.3,328.7 L39.3,330.1 L41.7,331.5 L43.6,333.6 L42.6,335.2 L41,333.8 L37,333.2 L32.4,333.1 L26.7,333.7 L21.5,332.2 Z" fill="#000"/>
<path d="M31.4,328.1 L33,327.9 L33.2,329.2 L31.6,329.3Z" fill="#fff"/>
<path d="M25.00,399.66 L25.75,399.89 L26.50,399.78 L27.25,399.56 L28.00,399.86 L28.75,399.45 L29.50,399.38 L30.25,399.70 L31.00,399.28 L31.75,398.96 L32.50,398.70 L33.25,398.44 L34.00,397.88 L34.75,397.56 L35.50,397.24 L36.25,396.96 L37.00,396.57 L37.75,396.25 L38.50,395.55 L39.25,395.49 L40.00,394.97 L40.80,395.02 L41.60,394.40 L42.40,394.30 L43.20,394.04 L44.00,394.39 L44.80,394.25 L45.60,393.83 L46.40,393.39 L47.20,393.47 L48.00,393.20 L48.80,392.84 L49.60,392.43 L50.40,392.26 L51.20,392.15 L52.00,391.87 L52.80,391.75 L53.60,391.70 L54.40,391.70 L55.20,390.89 L56.00,391.05 L56.80,390.58 L57.60,390.53 L58.40,390.92 L59.20,390.65 L60.00,390.79 L60.80,390.30 L61.60,389.84 L62.40,389.94 L63.20,389.92 L64.00,390.01 L64.80,389.94 L65.60,389.48 L66.40,389.34 L67.20,389.02 L68.00,389.30 L68.80,388.88 L69.60,388.72 L70.40,388.50 L71.20,388.37 L72.00,388.73 L72.73,388.30 L73.45,388.85 L74.18,388.20 L74.91,388.71 L75.64,388.16 L76.36,388.04 L77.09,388.50 L77.82,388.13 L78.55,388.44 L79.27,388.02 L80.00,387.89 L80.75,388.32 L81.50,388.20 L82.25,388.22 L83.00,388.06 L83.75,387.53 L84.50,387.84 L85.25,387.82 L86.00,387.57 L86.80,387.98 L87.60,387.59 L88.40,388.17 L89.20,388.07 L90.00,387.66 L90.71,387.66 L91.43,388.11 L92.14,388.22 L92.86,387.71 L93.57,387.87 L94.29,388.16 L95.00,387.77 L95.71,388.25 L96.43,387.99 L97.14,387.69 L97.86,387.91 L98.57,388.05 L99.29,387.96 L100.00,388.12 L100.71,387.74 L101.43,388.18 L102.14,387.86 L102.86,388.04 L103.57,388.02 L104.29,387.86 L105.00,387.82 L105.71,388.09 L106.43,388.18 L107.14,388.06 L107.86,387.89 L108.57,387.68 L109.29,387.51 L110.00,388.13 L110.71,387.90 L111.43,387.94 L112.14,387.55 L112.86,387.70 L113.57,387.92 L114.29,387.77 L115.00,387.57 L115.71,387.32 L116.43,387.36 L117.14,387.64 L117.86,387.24 L118.57,387.42 L119.29,387.31 L120.00,387.48 L120.71,387.41 L121.43,387.04 L122.14,386.83 L122.86,387.01 L123.57,387.12 L124.29,387.23 L125.00,387.38 L125.71,387.43 L126.43,386.83 L127.14,387.38 L127.86,387.36 L128.57,387.39 L129.29,387.18 L130.00,386.96 L130.71,387.36 L131.43,387.32 L132.14,387.23 L132.86,387.39 L133.57,386.98 L134.29,386.80 L135.00,387.12 L135.71,387.28 L136.43,386.86 L137.14,387.24 L137.86,387.36 L138.57,386.87 L139.29,387.12 L140.00,387.16 L140.71,387.01 L141.43,386.82 L142.14,386.85 L142.86,387.19 L143.57,387.22 L144.29,386.98 L145.00,386.71 L145.71,387.21 L146.42,387.18 L147.13,386.80 L147.84,387.03 L148.55,387.25 L149.26,387.24 L149.97,386.98 L150.68,386.94 L151.39,387.02 L152.11,386.73 L152.82,386.73 L153.53,386.71 L154.24,387.07 L154.95,386.83 L155.66,386.97 L156.37,386.85 L157.08,386.92 L157.79,386.66 L158.50,386.58 L159.21,387.24 L159.92,386.80 L160.63,386.61 L161.34,386.97 L162.05,387.07 L162.76,386.63 L163.47,386.93 L164.18,386.75 L164.89,386.87 L165.61,386.51 L166.32,386.52 L167.03,387.18 L167.74,387.09 L168.45,386.82 L169.16,386.87 L169.87,386.65 L170.58,387.01 L171.29,386.75 L172.00,387.11 L172.72,386.98 L173.44,387.00 L174.16,387.09 L174.88,386.58 L175.60,386.42 L176.32,386.52 L177.04,386.49 L177.76,386.41 L178.48,386.38 L179.20,386.72 L179.92,386.93 L180.64,386.63 L181.36,386.96 L182.08,386.92 L182.80,386.31 L183.52,386.68 L184.24,386.52 L184.96,386.32 L185.68,386.89 L186.40,386.39 L187.12,386.59 L187.84,386.63 L188.56,386.84 L189.28,386.63 L190.00,386.43 L190.71,386.46 L191.43,386.26 L192.14,386.83 L192.86,386.84 L193.57,386.31 L194.29,386.18 L195.00,386.33 L195.71,386.40 L196.43,386.78 L197.14,386.78 L197.86,386.74 L198.57,386.18 L199.29,386.70 L200.00,386.65 L200.71,386.62 L201.43,386.88 L202.14,386.25 L202.86,386.34 L203.57,386.79 L204.29,386.94 L205.00,386.77 L205.71,386.53 L206.43,386.76 L207.14,386.89 L207.86,386.46 L208.57,386.63 L209.29,386.61 L210.00,386.54 L210.71,386.74 L211.43,386.48 L212.14,386.49 L212.86,386.38 L213.57,386.71 L214.29,386.20 L215.00,386.65 L215.71,386.24 L216.43,386.09 L217.14,386.67 L217.86,386.13 L218.57,386.59 L219.29,386.50 L220.00,386.47 L220.71,385.90 L221.43,386.06 L222.14,385.77 L222.86,386.30 L223.57,386.19 L224.29,385.99 L225.00,385.82 L225.71,385.69 L226.43,385.98 L227.14,385.68 L227.86,385.74 L228.57,385.35 L229.29,385.36 L230.00,385.19 L230.75,385.56 L231.50,385.36 L232.25,384.99 L233.00,385.41 L233.75,384.90 L234.50,384.91 L235.25,384.65 L236.00,384.64 L236.76,384.88 L237.52,384.36 L238.28,384.09 L239.04,384.15 L239.80,383.87" fill="none" stroke="#000" stroke-width="1.9" stroke-linejoin="round" stroke-linecap="round"/>
<ellipse cx="27" cy="399.8" rx="2.8" ry="1.7" fill="#000"/>
<path d="M48.00,434.84 L48.80,434.55 L49.60,435.25 L50.40,434.87 L51.20,435.56 L52.00,435.60 L52.67,435.58 L53.33,435.99 L54.00,436.12 L54.67,436.35 L55.33,436.57 L56.00,436.92 L56.57,437.79 L57.14,438.30 L57.71,438.76 L58.29,438.76 L58.86,439.37 L59.43,440.24 L60.00,440.23 L60.57,441.14 L61.14,441.38 L61.71,442.29 L62.29,442.21 L62.86,443.18 L63.43,443.40 L64.00,443.78 L64.57,444.16 L65.14,445.11 L65.71,445.39 L66.29,445.64 L66.86,446.25 L67.43,446.99 L68.00,447.03 L68.67,447.63 L69.33,447.75 L70.00,448.16 L70.67,448.90 L71.33,449.24 L72.00,449.32 L72.80,449.45 L73.60,449.65 L74.40,450.17 L75.20,450.30 L76.00,450.36 L76.80,450.38 L77.60,450.69 L78.40,450.80 L79.20,450.93 L80.00,450.85 L80.67,450.40 L81.33,450.11 L82.00,450.29 L82.67,449.88 L83.33,449.85 L84.00,449.23 L84.67,449.27 L85.33,448.57 L86.00,448.46 L86.67,448.05 L87.33,447.41 L88.00,446.71 L88.57,446.75 L89.14,445.99 L89.71,445.72 L90.29,444.86 L90.86,444.31 L91.43,444.20 L92.00,443.42 L92.50,442.74 L93.00,442.30 L93.50,441.87 L94.00,440.95 L94.50,440.70 L95.00,440.09 L95.50,439.57 L96.00,438.77 L96.67,438.66 L97.33,438.26 L98.00,437.82 L98.67,437.03 L99.33,436.79 L100.00,436.13 L100.67,436.07 L101.33,435.37 L102.00,435.57 L102.67,435.34 L103.33,434.78 L104.00,434.51 L104.80,434.42 L105.60,434.32 L106.40,433.91 L107.20,434.38 L108.00,433.83 L108.67,433.56 L109.33,433.26 L110.00,433.10 L110.67,433.19 L111.33,432.47 L112.00,432.26 L112.80,432.52 L113.60,432.12 L114.40,431.91 L115.20,432.16 L116.00,432.05 L116.67,431.71 L117.33,431.52 L118.00,430.86 L118.67,431.02 L119.33,430.63 L120.00,429.93 L120.71,430.00 L121.43,430.25 L122.14,430.29 L122.86,430.18 L123.57,430.12 L124.29,430.31 L125.00,430.18 L125.71,430.28 L126.43,430.27 L127.14,429.67 L127.86,429.76 L128.57,429.69 L129.29,429.17 L130.00,429.40 L130.71,429.36 L131.43,428.93 L132.14,428.85 L132.86,429.00 L133.57,428.72 L134.29,428.54 L135.00,428.76 L135.71,428.67 L136.43,428.40 L137.14,428.34 L137.86,428.40 L138.57,428.46 L139.29,428.79 L140.00,428.68 L140.75,428.75 L141.50,428.69 L142.25,428.71 L143.00,428.23 L143.75,428.51 L144.50,428.77 L145.25,428.76 L146.00,428.35 L146.70,428.41 L147.40,428.49 L148.10,428.28 L148.80,428.34 L149.50,428.02 L150.20,428.19 L150.90,428.19 L151.60,427.85 L152.30,427.88 L153.00,428.33 L153.70,428.17 L154.40,428.22 L155.10,427.99 L155.80,428.06 L156.50,428.06 L157.20,428.01 L157.90,427.46 L158.60,427.77 L159.30,427.50 L160.00,427.71 L160.71,427.47 L161.43,427.63 L162.14,427.87 L162.86,427.69 L163.57,427.47 L164.29,427.63 L165.00,427.59 L165.71,427.90 L166.43,427.50 L167.14,427.52 L167.86,427.73 L168.57,427.42 L169.29,427.70 L170.00,427.92 L170.71,427.66 L171.43,427.52 L172.14,427.64 L172.86,427.68 L173.57,427.46 L174.29,427.45 L175.00,427.45 L175.71,427.55 L176.43,427.63 L177.14,427.56 L177.86,427.54 L178.57,427.45 L179.29,427.72 L180.00,427.90 L180.72,427.75 L181.44,427.72 L182.16,427.75 L182.88,427.47 L183.60,427.77 L184.32,427.60 L185.04,427.64 L185.76,427.67 L186.48,427.57 L187.20,427.47 L187.92,427.41 L188.64,427.39 L189.36,427.55 L190.08,427.46 L190.80,427.57 L191.52,427.22 L192.24,427.41 L192.96,427.70 L193.68,427.32 L194.40,427.49 L195.12,427.44 L195.84,427.31 L196.56,427.72 L197.28,427.29 L198.00,427.56 L198.71,427.16 L199.43,427.07 L200.14,427.52 L200.86,427.22 L201.57,426.96 L202.29,427.12 L203.00,427.11 L203.71,427.26 L204.43,426.84 L205.14,426.88 L205.86,427.28 L206.57,427.11 L207.29,426.73 L208.00,426.80 L208.72,426.79 L209.45,426.97 L210.18,426.91 L210.90,427.03 L211.62,427.00 L212.35,426.80 L213.07,426.91 L213.80,426.90 L214.53,426.89 L215.25,426.70 L215.97,426.86 L216.70,426.80 L217.42,426.91 L218.15,426.41 L218.88,426.84 L219.60,426.30 L220.32,426.74 L221.05,426.61 L221.78,426.54 L222.50,426.80 L223.22,426.55 L223.95,426.44 L224.67,426.64 L225.40,426.67 L226.12,426.50 L226.85,426.34 L227.57,426.37 L228.30,426.35 L229.02,426.49 L229.75,426.21 L230.47,426.25 L231.20,426.33 L231.95,426.21 L232.70,426.15 L233.45,426.41 L234.20,426.43 L234.95,426.20 L235.70,426.15 L236.45,425.97 L237.20,426.02 L237.95,425.91 L238.70,426.15" fill="none" stroke="#000" stroke-width="1.8" stroke-linejoin="round" stroke-linecap="round"/>
<path d="M27.80,432.77 L28.42,433.02 L29.03,432.94 L29.65,433.02 L30.27,432.57 L30.88,432.23 L31.50,432.65 L32.14,432.94 L32.79,432.63 L33.43,432.61 L34.08,432.75 L34.72,432.49 L35.37,432.48 L36.01,432.74 L36.66,432.28 L37.30,432.52 L37.94,432.66 L38.59,432.97 L39.23,432.55 L39.88,433.00 L40.52,432.62 L41.17,432.34 L41.81,432.98 L42.46,432.61 L43.10,432.92 L43.75,432.87 L44.40,432.94 L45.05,432.38 L45.70,432.68 L46.35,432.43 L47.00,432.80 L47.60,432.79 L48.20,433.23 L48.80,433.26 L49.40,433.39 L50.00,433.35 L50.60,434.37 L51.20,434.58 L51.80,434.80 L52.40,434.96 L53.00,435.53 L53.00,438.10 L52.40,437.65 L51.80,437.40 L51.20,436.95 L50.60,437.09 L50.00,436.69 L49.40,436.97 L48.80,437.02 L48.20,436.39 L47.60,437.12 L47.00,436.78 L46.35,436.43 L45.70,436.67 L45.05,436.48 L44.40,436.57 L43.75,437.01 L43.10,436.75 L42.46,436.29 L41.81,436.86 L41.17,436.45 L40.52,436.85 L39.88,436.47 L39.23,436.70 L38.59,436.59 L37.94,436.90 L37.30,436.65 L36.66,436.50 L36.01,436.62 L35.37,436.96 L34.72,436.68 L34.08,436.51 L33.43,436.61 L32.79,437.00 L32.14,436.82 L31.50,436.60 L30.88,436.25 L30.27,436.96 L29.65,436.41 L29.03,436.94 L28.42,436.54 L27.80,436.37Z" fill="#000"/>
<line x1="311.9" y1="30.0" x2="311.9" y2="173.0" stroke="#111" stroke-width="1.4"/>
<line x1="308.4" y1="168.0" x2="513.2" y2="168.0" stroke="#111" stroke-width="1.4"/>
<line x1="308.4" y1="168.00" x2="311.9" y2="168.00" stroke="#111" stroke-width="1.3"/>
<line x1="308.4" y1="133.50" x2="311.9" y2="133.50" stroke="#111" stroke-width="1.3"/>
<line x1="308.4" y1="99.00" x2="311.9" y2="99.00" stroke="#111" stroke-width="1.3"/>
<line x1="308.4" y1="64.50" x2="311.9" y2="64.50" stroke="#111" stroke-width="1.3"/>
<line x1="308.4" y1="30.00" x2="311.9" y2="30.00" stroke="#111" stroke-width="1.3"/>
<line x1="312" y1="168.0" x2="312" y2="173.0" stroke="#111" stroke-width="1.3"/>
<line x1="352.6" y1="168.0" x2="352.6" y2="173.0" stroke="#111" stroke-width="1.3"/>
<line x1="393.1" y1="168.0" x2="393.1" y2="173.0" stroke="#111" stroke-width="1.3"/>
<line x1="434.2" y1="168.0" x2="434.2" y2="173.0" stroke="#111" stroke-width="1.3"/>
<line x1="471.6" y1="168.0" x2="471.6" y2="173.0" stroke="#111" stroke-width="1.3"/>
<line x1="512.6" y1="168.0" x2="512.6" y2="173.0" stroke="#111" stroke-width="1.3"/>
<line x1="326.85" y1="166.21" x2="326.85" y2="164.55" stroke="#222" stroke-width="1"/>
<line x1="324.55" y1="164.55" x2="329.15" y2="164.55" stroke="#222" stroke-width="1"/>
<line x1="337.85" y1="166.62" x2="337.85" y2="165.93" stroke="#222" stroke-width="1"/>
<line x1="335.55" y1="165.93" x2="340.15" y2="165.93" stroke="#222" stroke-width="1"/>
<rect x="321" y="166.21" width="11.70" height="1.79" fill="#000"/>
<rect x="332.70" y="166.62" width="10.30" height="1.38" fill="#fff" stroke="#000" stroke-width="1.3"/>
<line x1="366.90" y1="165.93" x2="366.90" y2="164.90" stroke="#222" stroke-width="1"/>
<line x1="364.60" y1="164.90" x2="369.20" y2="164.90" stroke="#222" stroke-width="1"/>
<line x1="378.30" y1="62.02" x2="378.30" y2="34.14" stroke="#222" stroke-width="1"/>
<line x1="376.00" y1="34.14" x2="380.60" y2="34.14" stroke="#222" stroke-width="1"/>
<rect x="361.1" y="165.93" width="11.60" height="2.07" fill="#000"/>
<rect x="372.70" y="62.02" width="11.20" height="105.98" fill="#fff" stroke="#000" stroke-width="1.3"/>
<line x1="408.45" y1="165.24" x2="408.45" y2="162.82" stroke="#222" stroke-width="1"/>
<line x1="406.15" y1="162.82" x2="410.75" y2="162.82" stroke="#222" stroke-width="1"/>
<line x1="419.70" y1="47.53" x2="419.70" y2="32.76" stroke="#222" stroke-width="1"/>
<line x1="417.40" y1="32.76" x2="422.00" y2="32.76" stroke="#222" stroke-width="1"/>
<rect x="402.7" y="165.24" width="11.50" height="2.76" fill="#000"/>
<rect x="414.20" y="47.53" width="11.00" height="120.47" fill="#fff" stroke="#000" stroke-width="1.3"/>
<line x1="445.90" y1="150.47" x2="445.90" y2="141.30" stroke="#222" stroke-width="1"/>
<line x1="443.60" y1="141.30" x2="448.20" y2="141.30" stroke="#222" stroke-width="1"/>
<line x1="457.15" y1="153.92" x2="457.15" y2="148.20" stroke="#222" stroke-width="1"/>
<line x1="454.85" y1="148.20" x2="459.45" y2="148.20" stroke="#222" stroke-width="1"/>
<rect x="440" y="150.47" width="11.80" height="17.53" fill="#000"/>
<rect x="451.80" y="153.92" width="10.70" height="14.08" fill="#fff" stroke="#000" stroke-width="1.3"/>
<line x1="486.00" y1="165.24" x2="486.00" y2="162.13" stroke="#222" stroke-width="1"/>
<line x1="483.70" y1="162.13" x2="488.30" y2="162.13" stroke="#222" stroke-width="1"/>
<rect x="480" y="165.24" width="12.00" height="2.76" fill="#000"/>
<rect x="492.00" y="166.21" width="11.00" height="1.79" fill="#fff" stroke="#000" stroke-width="1.3"/>
<rect x="319.9" y="35.6" width="7.3" height="7.6" fill="#000"/>
<rect x="320.45" y="51.0" width="6.3" height="6.8" fill="#fff" stroke="#000" stroke-width="1.1"/>
<line x1="315.0" y1="257.0" x2="315.0" y2="402.6" stroke="#111" stroke-width="1.4"/>
<line x1="311.5" y1="397.6" x2="517.9" y2="397.6" stroke="#111" stroke-width="1.4"/>
<line x1="311.5" y1="397.60" x2="315.0" y2="397.60" stroke="#111" stroke-width="1.3"/>
<line x1="311.5" y1="362.45" x2="315.0" y2="362.45" stroke="#111" stroke-width="1.3"/>
<line x1="311.5" y1="327.30" x2="315.0" y2="327.30" stroke="#111" stroke-width="1.3"/>
<line x1="311.5" y1="292.15" x2="315.0" y2="292.15" stroke="#111" stroke-width="1.3"/>
<line x1="311.5" y1="257.00" x2="315.0" y2="257.00" stroke="#111" stroke-width="1.3"/>
<line x1="315.3" y1="397.6" x2="315.3" y2="402.6" stroke="#111" stroke-width="1.3"/>
<line x1="355.7" y1="397.6" x2="355.7" y2="402.6" stroke="#111" stroke-width="1.3"/>
<line x1="396.6" y1="397.6" x2="396.6" y2="402.6" stroke="#111" stroke-width="1.3"/>
<line x1="437.6" y1="397.6" x2="437.6" y2="402.6" stroke="#111" stroke-width="1.3"/>
<line x1="477.0" y1="397.6" x2="477.0" y2="402.6" stroke="#111" stroke-width="1.3"/>
<line x1="517.3" y1="397.6" x2="517.3" y2="402.6" stroke="#111" stroke-width="1.3"/>
<line x1="330.10" y1="393.80" x2="330.10" y2="392.33" stroke="#222" stroke-width="1"/>
<line x1="327.80" y1="392.33" x2="332.40" y2="392.33" stroke="#222" stroke-width="1"/>
<rect x="324.3" y="393.80" width="11.60" height="3.80" fill="#000"/>
<rect x="335.90" y="394.51" width="10.60" height="3.09" fill="#fff" stroke="#000" stroke-width="1.3"/>
<line x1="369.85" y1="392.33" x2="369.85" y2="390.57" stroke="#222" stroke-width="1"/>
<line x1="367.55" y1="390.57" x2="372.15" y2="390.57" stroke="#222" stroke-width="1"/>
<line x1="381.70" y1="306.42" x2="381.70" y2="297.42" stroke="#222" stroke-width="1"/>
<line x1="379.40" y1="297.42" x2="384.00" y2="297.42" stroke="#222" stroke-width="1"/>
<rect x="364" y="392.33" width="11.70" height="5.27" fill="#000"/>
<rect x="375.70" y="306.42" width="12.00" height="91.18" fill="#fff" stroke="#000" stroke-width="1.3"/>
<line x1="411.65" y1="394.09" x2="411.65" y2="390.57" stroke="#222" stroke-width="1"/>
<line x1="409.35" y1="390.57" x2="413.95" y2="390.57" stroke="#222" stroke-width="1"/>
<line x1="422.95" y1="296.86" x2="422.95" y2="274.58" stroke="#222" stroke-width="1"/>
<line x1="420.65" y1="274.58" x2="425.25" y2="274.58" stroke="#222" stroke-width="1"/>
<rect x="406" y="394.09" width="11.30" height="3.51" fill="#000"/>
<rect x="417.30" y="296.86" width="11.30" height="100.74" fill="#fff" stroke="#000" stroke-width="1.3"/>
<line x1="451.20" y1="373.98" x2="451.20" y2="370.32" stroke="#222" stroke-width="1"/>
<line x1="448.90" y1="370.32" x2="453.50" y2="370.32" stroke="#222" stroke-width="1"/>
<line x1="462.60" y1="376.16" x2="462.60" y2="365.97" stroke="#222" stroke-width="1"/>
<line x1="460.30" y1="365.97" x2="464.90" y2="365.97" stroke="#222" stroke-width="1"/>
<rect x="445.3" y="373.98" width="11.80" height="23.62" fill="#000"/>
<rect x="457.10" y="376.16" width="11.00" height="21.44" fill="#fff" stroke="#000" stroke-width="1.3"/>
<line x1="491.40" y1="393.80" x2="491.40" y2="392.68" stroke="#222" stroke-width="1"/>
<line x1="489.10" y1="392.68" x2="493.70" y2="392.68" stroke="#222" stroke-width="1"/>
<rect x="485.4" y="393.80" width="12.00" height="3.80" fill="#000"/>
<rect x="497.40" y="394.09" width="11.10" height="3.51" fill="#fff" stroke="#000" stroke-width="1.3"/>
<rect x="328.1" y="266.4" width="7.4" height="7.3" fill="#000"/>
<rect x="327.85" y="285.45" width="6.7" height="6.8" fill="#fff" stroke="#000" stroke-width="1.1"/>
</svg>
</body></html>
